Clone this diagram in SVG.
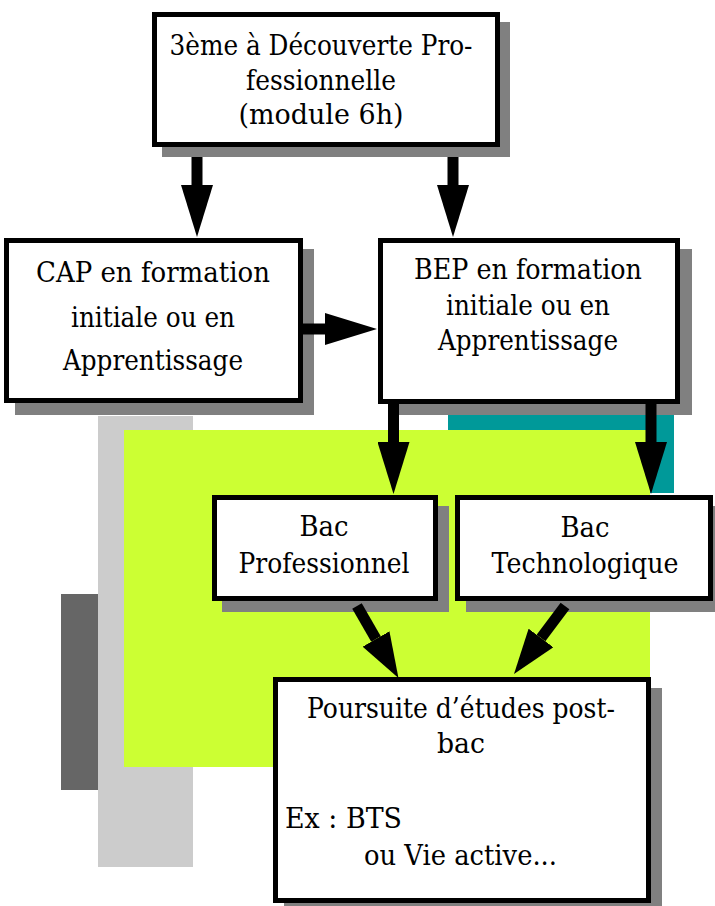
<svg xmlns="http://www.w3.org/2000/svg" width="715" height="906" viewBox="0 0 715 906">
  <style>
    .box { fill: #ffffff; stroke: #000000; stroke-width: 5; }
    .shadow { fill: #808080; }
    .t { font-family: "DejaVu Serif", "Liberation Serif", serif; font-size: 28px; fill: #000000; }
    .c { text-anchor: middle; }
    .shaft { stroke: #000000; stroke-width: 11; fill: none; }
  </style>
  <defs>
    <marker id="head" viewBox="0 0 52 32" refX="0" refY="16" markerUnits="userSpaceOnUse" markerWidth="52" markerHeight="32" orient="auto">
      <path d="M0,0 L52,16 L0,32 Z" fill="#000000"/>
    </marker>
    <marker id="head-s" viewBox="0 0 45 31" refX="0" refY="15.5" markerUnits="userSpaceOnUse" markerWidth="45" markerHeight="31" orient="auto">
      <path d="M0,0 L45,15.5 L0,31 Z" fill="#000000"/>
    </marker>
  </defs>
  <rect width="715" height="906" fill="#ffffff"/>

  <g id="background">
    <rect x="448" y="405" width="226" height="88" fill="#009999"/>
    <rect x="61" y="594" width="60" height="196" fill="#666666"/>
    <rect x="98" y="416" width="95" height="451" fill="#cccccc"/>
    <rect x="124" y="430" width="526" height="337" fill="#ccff33"/>
  </g>

  <g id="node-3eme">
    <rect class="shadow" x="162" y="22" width="348" height="135"/>
    <rect class="box" x="154.5" y="14.5" width="343" height="130"/>
    <text class="t c" x="321" y="55" textLength="303" lengthAdjust="spacingAndGlyphs">3ème à Découverte Pro-</text>
    <text class="t c" x="321" y="90" textLength="150" lengthAdjust="spacingAndGlyphs">fessionnelle</text>
    <text class="t c" x="321" y="124" textLength="165" lengthAdjust="spacingAndGlyphs">(module 6h)</text>
  </g>

  <g id="node-cap">
    <rect class="shadow" x="15" y="249" width="299" height="166"/>
    <rect class="box" x="6.5" y="240.5" width="294" height="160"/>
    <text class="t c" x="153" y="282" textLength="234" lengthAdjust="spacingAndGlyphs">CAP en formation</text>
    <text class="t c" x="153" y="327" textLength="164" lengthAdjust="spacingAndGlyphs">initiale ou en</text>
    <text class="t c" x="153" y="370" textLength="180" lengthAdjust="spacingAndGlyphs">Apprentissage</text>
  </g>

  <g id="node-bep">
    <rect class="shadow" x="389" y="249" width="303" height="166"/>
    <rect class="box" x="380.5" y="240.5" width="297" height="161"/>
    <text class="t c" x="528" y="279" textLength="228" lengthAdjust="spacingAndGlyphs">BEP en formation</text>
    <text class="t c" x="528" y="315" textLength="164" lengthAdjust="spacingAndGlyphs">initiale ou en</text>
    <text class="t c" x="528" y="350" textLength="180" lengthAdjust="spacingAndGlyphs">Apprentissage</text>
  </g>

  <g id="node-bacpro">
    <rect class="shadow" x="222" y="506" width="227" height="106"/>
    <rect class="box" x="214.5" y="497.5" width="221" height="101"/>
    <text class="t c" x="324" y="536" textLength="49" lengthAdjust="spacingAndGlyphs">Bac</text>
    <text class="t c" x="324" y="573" textLength="171" lengthAdjust="spacingAndGlyphs">Professionnel</text>
  </g>

  <g id="node-bactech">
    <rect class="shadow" x="466" y="506" width="258" height="106"/>
    <rect class="box" x="457.5" y="497.5" width="253" height="101"/>
    <text class="t c" x="585" y="537" textLength="49" lengthAdjust="spacingAndGlyphs">Bac</text>
    <text class="t c" x="585" y="573" textLength="187" lengthAdjust="spacingAndGlyphs">Technologique</text>
  </g>

  <g id="node-poursuite">
    <rect class="shadow" x="284" y="688" width="378" height="226"/>
    <rect class="box" x="275.5" y="679.5" width="373" height="221"/>
    <text class="t c" x="461" y="718" textLength="308" lengthAdjust="spacingAndGlyphs">Poursuite d’études post-</text>
    <text class="t c" x="461" y="753" textLength="48" lengthAdjust="spacingAndGlyphs">bac</text>
    <text class="t" x="285" y="828" textLength="117" lengthAdjust="spacingAndGlyphs">Ex : BTS</text>
    <text class="t" x="364" y="865" textLength="193" lengthAdjust="spacingAndGlyphs">ou Vie active...</text>
  </g>

  <g id="connectors">
    <line class="shaft" x1="197" y1="157" x2="197" y2="185" marker-end="url(#head)"/>
    <line class="shaft" x1="453" y1="157" x2="453" y2="185" marker-end="url(#head)"/>
    <line class="shaft" x1="303" y1="329" x2="325" y2="329" marker-end="url(#head)"/>
    <line class="shaft" x1="393.5" y1="404" x2="393.5" y2="442" marker-end="url(#head)"/>
    <line class="shaft" x1="651" y1="404" x2="651" y2="442" marker-end="url(#head)"/>
    <line class="shaft" x1="357" y1="606" x2="376" y2="639" marker-end="url(#head-s)"/>
    <line class="shaft" x1="565" y1="606" x2="541" y2="638" marker-end="url(#head-s)"/>
  </g>
</svg>
